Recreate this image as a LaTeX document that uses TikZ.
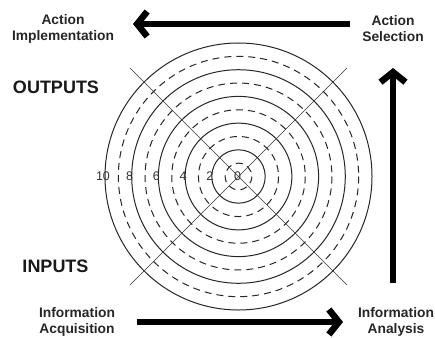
\documentclass[tikz,border=0pt]{standalone}
\usepackage{fontspec}
\setmainfont{Liberation Sans}
\usetikzlibrary{arrows.meta}
\begin{document}
\begin{tikzpicture}[x=1pt,y=-1pt,
  ring/.style={line width=1pt, black!85},
  dashring/.style={ring, dash pattern=on 7pt off 5pt},
  cross/.style={line width=0.6pt, black!80},
  stage/.style={font=\fontsize{13.8}{16}\selectfont\bfseries, align=center, inner sep=0pt, text=black!85},
  side/.style={font=\fontsize{18}{20}\selectfont\bfseries, inner sep=0pt, text=black!90},
  num/.style={font=\fontsize{12.5}{13}\selectfont, inner sep=0pt, text=black!80},
  flow/.style={line width=6.5pt, -{Straight Barb[length=10pt,width=25pt]}},
]
\useasboundingbox (0,0) rectangle (435,337);

% centre of the rings
\coordinate (c) at (238.5,176.5);

% concentric rings: solid on even steps, dashed on odd steps
\foreach \k in {1,...,10} {
  \pgfmathsetmacro{\r}{\k*13.35}
  \ifodd\k
    \draw[dashring] (c) circle[radius=\r];
  \else
    \draw[ring] (c) circle[radius=\r];
  \fi
}

% diagonal cross through the centre
\coordinate (xul) at (130,68);
\coordinate (xur) at (347,68);
\coordinate (xll) at (130,285);
\coordinate (xlr) at (347,285);
\draw[cross] (xul) -- (xlr);
\draw[cross] (xur) -- (xll);

% scale numbers
\node[num] (n0) at (237.5,176) {0};
\foreach \v/\k in {2/1,4/2,6/3,8/4,10/5} {
  \node[num] (n\v) at ({238.5-2*\k*13.35-2},176) {\v};
}

% stage labels
\node[stage] (impl) at (63,29) {Action\\Implementation};
\node[stage] (sel)  at (393,29) {Action\\Selection};
\node[stage] (acq)  at (77,322) {Information\\Acquisition};
\node[stage] (ana)  at (396,322) {Information\\Analysis};

\node[side] (out) at (56,87) {OUTPUTS};
\node[side] (inp) at (55.5,266.5) {INPUTS};

% flow arrows between the stages
\coordinate (topR) at (350,24);
\coordinate (topL) at (133,24);
\coordinate (vertB) at (393,283);
\coordinate (vertT) at (393,68);
\coordinate (botL) at (137,322);
\coordinate (botR) at (343,322);
\draw[flow] (topR) -- (topL);
\draw[flow] (vertB) -- (vertT);
\draw[flow] (botL) -- (botR);
\end{tikzpicture}
\end{document}
